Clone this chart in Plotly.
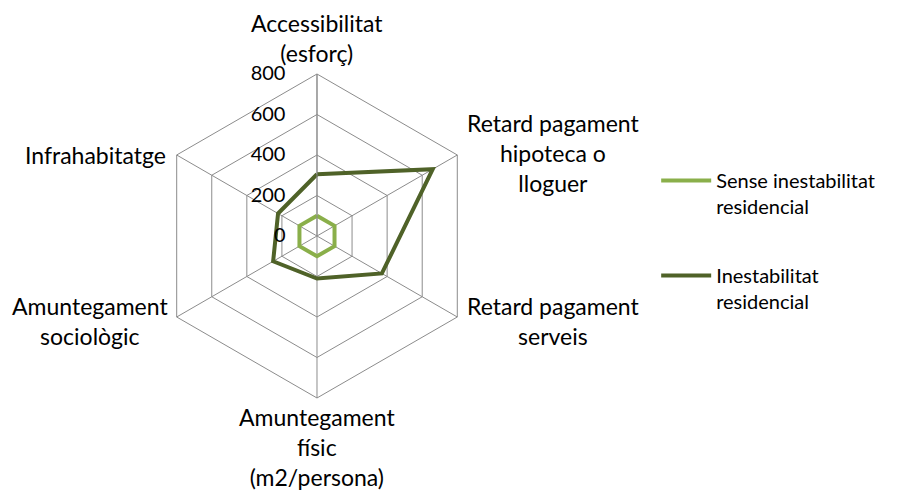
import plotly.graph_objects as go

categories = [
    "Accessibilitat (esforç)",
    "Retard pagament hipoteca o lloguer",
    "Retard pagament serveis",
    "Amuntegament físic (m2/persona)",
    "Amuntegament sociològic",
    "Infrahabitatge",
]
cat_labels = [
    "Accessibilitat<br>(esforç)",
    "Retard pagament<br>hipoteca o<br>lloguer",
    "Retard pagament<br>serveis",
    "Amuntegament<br>físic<br>(m2/persona)",
    "Amuntegament<br>sociològic",
    "Infrahabitatge",
]
sense_inest = [100, 100, 100, 100, 100, 100]
inest = [305, 660, 370, 210, 250, 222]

names = ["Sense inestabilitat<br>residencial", "Inestabilitat<br>residencial"]
colors = ["#8AAF4A", "#4F6228"]

fig = go.Figure()
for i, (vals, nm, col) in enumerate(zip([sense_inest, inest], names, colors)):
    fig.add_trace(go.Scatterpolar(
        r=vals + vals[:1],
        theta=categories + categories[:1],
        mode="lines",
        name=nm,
        legendgroup="g%d" % i,
        line=dict(color=col, width=4),
    ))

# page body adds an 8px margin, so pixel spots are shifted back by OFF
W, H, OFF = 899, 495, 8
label_pos = [(317, 38), (553, 153), (553, 321), (317, 447), (90, 321), (95, 155)]
for txt, (px_, py_) in zip(cat_labels, label_pos):
    fig.add_annotation(text=txt, x=(px_ - OFF) / W, y=1 - (py_ - OFF) / H,
                       xref="paper", yref="paper", xanchor="center", yanchor="middle",
                       showarrow=False, align="center", font=dict(size=23))

grid = "#8C8C8C"
fig.update_layout(
    width=W, height=H,
    margin=dict(l=0, r=0, t=0, b=0),
    paper_bgcolor="white",
    font=dict(family="Lato", size=20, color="black"),
    polar=dict(
        domain=dict(x=[0.1635, 0.5239], y=[0.2121, 0.8667]),
        gridshape="linear",
        bgcolor="white",
        radialaxis=dict(
            range=[0, 800], dtick=200, angle=90, tickangle=90, side="counterclockwise",
            showline=True, linecolor=grid, gridcolor=grid, linewidth=1,
            ticks="outside", ticklen=24, tickcolor="rgba(0,0,0,0)",
            tickfont=dict(size=20),
        ),
        angularaxis=dict(
            direction="clockwise", rotation=90,
            showline=True, linecolor=grid, gridcolor=grid, linewidth=1,
            ticks="", showticklabels=False,
        ),
    ),
    legend=dict(
        x=0.721, y=0.691, xanchor="left", yanchor="top", valign="top",
        font=dict(size=20), tracegroupgap=40, itemwidth=50,
    ),
)

fig.write_html("out.html")
